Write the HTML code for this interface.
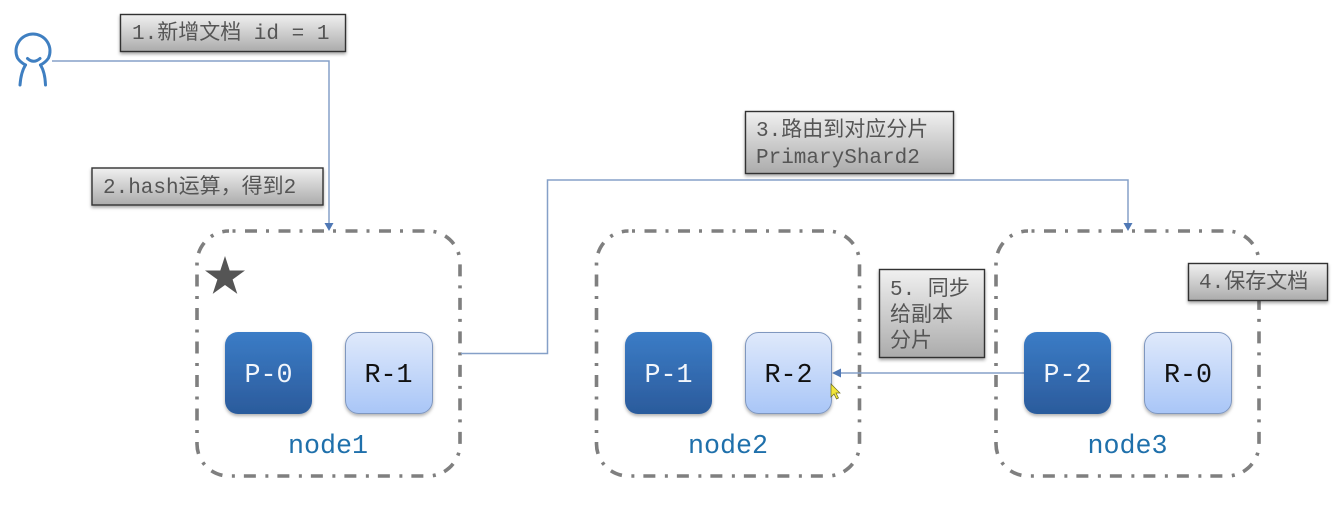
<!DOCTYPE html>
<html><head><meta charset="utf-8">
<style>
html,body{margin:0;padding:0;background:#fff;width:1340px;height:509px;overflow:hidden}
svg{display:block;position:absolute;left:0;top:0;filter:blur(.35px)}
text{font-family:"Liberation Mono","Noto Sans CJK SC",monospace}
.lb{font-size:21px;fill:#555}
.c{font-size:26.700px;text-anchor:middle}
.n{font-size:26.700px;fill:#1f70ab;text-anchor:middle}
.node{fill:none;stroke:#7f7f7f;stroke-width:3.6;stroke-dasharray:12 9 3 9.500;stroke-dashoffset:17.5}
.conn{fill:none;stroke:#85a0c8;stroke-width:1.5}
.box{fill:url(#g);stroke:#333;stroke-width:1.4;filter:url(#s)}
.P{fill:url(#pg);filter:url(#s2)}
.R{fill:url(#rg);stroke:#7f97bf;stroke-width:1;filter:url(#s2)}
</style></head><body>
<svg width="1340" height="509" viewBox="0 0 1340 509" xmlns="http://www.w3.org/2000/svg">
<defs>
<linearGradient id="g" x1="0" y1="0" x2="0" y2="1"><stop offset="0" stop-color="#f0f0f0"/><stop offset="1" stop-color="#ababab"/></linearGradient>
<linearGradient id="pg" x1="0" y1="0" x2="0" y2="1"><stop offset="0" stop-color="#3b7cc6"/><stop offset="1" stop-color="#2b5b9c"/></linearGradient>
<linearGradient id="rg" x1="0" y1="0" x2="0" y2="1"><stop offset="0" stop-color="#dfe9fb"/><stop offset="1" stop-color="#a9c6f7"/></linearGradient>
<filter id="s" x="-10%" y="-20%" width="120%" height="150%"><feDropShadow dx="0" dy="2" stdDeviation="1.5" flood-color="#000" flood-opacity=".35"/></filter>
<filter id="s2" x="-10%" y="-10%" width="120%" height="125%"><feDropShadow dx="0" dy="2" stdDeviation="1.5" flood-color="#000" flood-opacity=".3"/></filter>
</defs>

<!-- nodes -->
<rect class="node" x="197" y="231" width="263" height="245" rx="32" ry="32"/>
<rect class="node" x="596.500" y="231" width="263" height="245" rx="32" ry="32"/>
<rect class="node" x="996" y="231" width="263" height="245" rx="32" ry="32"/>

<!-- connectors -->
<path class="conn" d="M52 61H329V224"/>
<path d="M324.500 223h9l-4.500 8z" fill="#4f78b5"/>
<path class="conn" d="M461 353.500H547.500V180H1128V224"/>
<path d="M1123.500 223h9l-4.500 8z" fill="#4f78b5"/>
<path class="conn" d="M1025 373H840"/>
<path d="M841 368.500v9l-9-4.500z" fill="#4f78b5"/>

<!-- user -->
<g fill="none" stroke="#3f7fc1" stroke-width="3" stroke-linecap="round">
<path d="M25.500 65Q20 62 17.500 58A17 17 0 1 1 48.500 58Q46 62 40.500 65"/>
<path d="M27.500 58.500Q33.500 64 40 58.500"/>
<path d="M25.500 65Q21 72 20 85"/>
<path d="M40.500 65Q45 72 45.500 85"/>
</g>

<!-- star -->
<path fill="#555" d="M225 256L229.700 270.500H245L232.600 279.500 237.300 293.900 225 285 212.700 293.900 217.400 279.500 205 270.500H220.300z"/>

<!-- shards -->
<rect class="P" x="225" y="332" width="87" height="82" rx="13"/>
<rect class="R" x="345.500" y="332.500" width="87" height="81" rx="13"/>
<rect class="P" x="625" y="332" width="87" height="82" rx="13"/>
<rect class="R" x="745.500" y="332.500" width="86" height="81" rx="13"/>
<rect class="P" x="1024" y="332" width="87" height="82" rx="13"/>
<rect class="R" x="1144.500" y="332.500" width="87" height="81" rx="13"/>
<text class="c" x="268.500" y="382" fill="#f2f6fc">P-0</text>
<text class="c" x="388.500" y="382" fill="#111">R-1</text>
<text class="c" x="668.500" y="382" fill="#f2f6fc">P-1</text>
<text class="c" x="788.500" y="382" fill="#111">R-2</text>
<text class="c" x="1067.500" y="382" fill="#f2f6fc">P-2</text>
<text class="c" x="1188" y="382" fill="#111">R-0</text>
<text class="n" x="328" y="453">node1</text>
<text class="n" x="728" y="453">node2</text>
<text class="n" x="1127.500" y="453">node3</text>

<!-- labels -->
<rect class="box" x="120.500" y="14.500" width="225" height="37"/>
<text class="lb" x="132" y="39">1.新增文档 id = 1</text>
<rect class="box" x="92" y="168" width="231" height="37"/>
<text class="lb" x="103" y="193">2.hash运算，得到2</text>
<rect class="box" x="745.500" y="111.500" width="208" height="62"/>
<text class="lb" x="756" y="136">3.路由到对应分片</text>
<text class="lb" x="756" y="163">PrimaryShard2</text>
<rect class="box" x="879.500" y="269.500" width="105" height="88"/>
<text class="lb" x="890" y="295">5. 同步</text>
<text class="lb" x="890" y="321">给副本</text>
<text class="lb" x="890" y="347">分片</text>
<rect class="box" x="1188.500" y="263.500" width="139" height="37"/>
<text class="lb" x="1199" y="288">4.保存文档</text>

<!-- cursor -->
<path d="M831 384l0 13 3-3 2.500 5 2-1-2.500-5h4z" fill="#f2e63a" stroke="#6b6b20" stroke-width=".7"/>
</svg>
</body></html>
